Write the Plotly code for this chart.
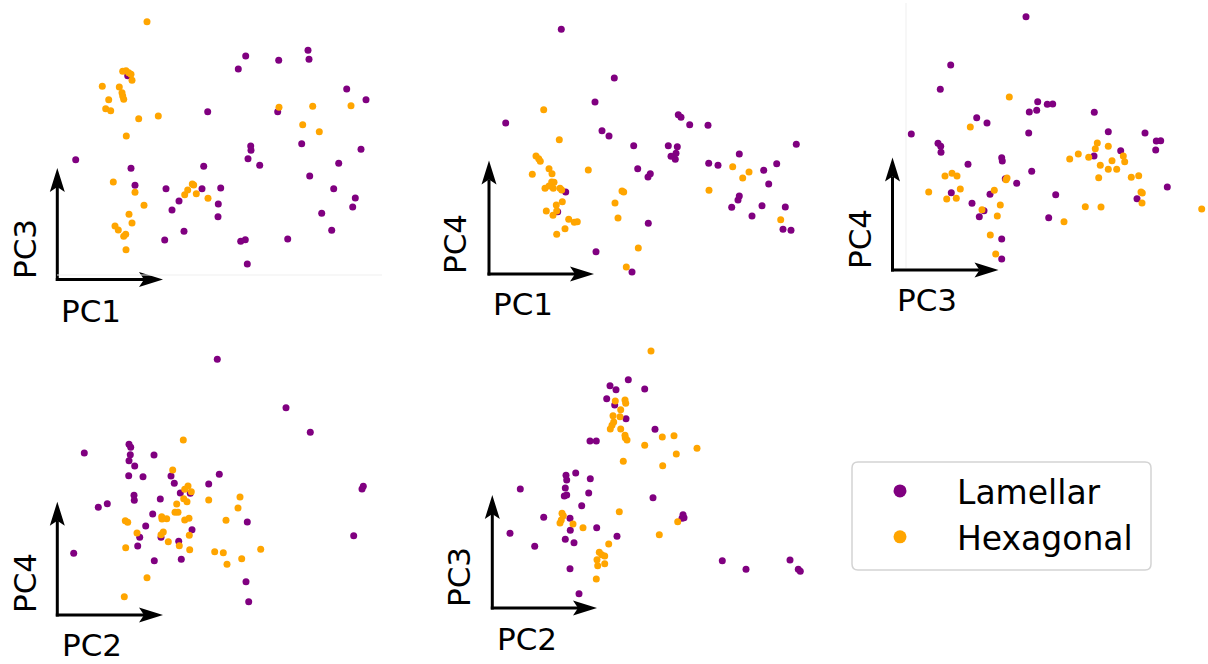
import plotly.graph_objects as go

W, H = 1208, 664
PURPLE = "#800080"
ORANGE = "#FFA500"

# ---------------- data (scores, panel units) ----------------
# Panel 1: PC1 (x) vs PC3 (y)
p1_lam_x = [75.7,131,135,166,179,172,184,164.7,203.7,202,220.7,218.3,218,207.7,245.7,238.3,278.7,308,309,277.7,250.7,251,248,259.7,240.7,245.3,247.3,287.7,301.7,309.7,346.7,366,361,338.7,333.7,355.3,352.7,321.7,331.7,127.7]
p1_lam_y = [159.7,168.3,185.3,188.7,201,210,231.3,240,166.3,188.7,188,204,216.7,111.7,56,69,60.3,50.3,59.3,111.7,146,150.3,158.7,165.3,241.3,239.7,264,239,143.7,176,89,99.7,149.3,163.3,188.7,198,207,213.3,230.3,75.7]
p1_hex_x = [147,122.7,126,128.7,131,132,102.3,119.3,122,122.7,123.7,108.7,105.7,110.7,138.7,158.3,126.3,113.3,135,144,129,132,115,118.3,125.7,123.7,126,192.3,193.7,187.7,184.7,196.3,208,279,312.7,351,302.7,319.3]
p1_hex_y = [21.7,71.3,70.7,72.7,74.3,80.3,86.3,87,92.7,96,99.3,99.7,108.7,110.7,118.7,116,136,182,192.3,205.3,214.3,223,226,230,234.3,236.3,249.7,184,185,190,194.7,193.7,198.3,107.3,106.3,105.7,124.7,131.7]

# Panel 2: PC1 (x) vs PC4 (y)
p2_lam_x = [561.3,614.3,595,505.7,602,609,633.7,678.3,681,689.7,708,668.3,677.3,676,671,675.3,637.7,650.3,648,796.3,739.3,708.7,718,763.7,776.7,768.7,739.3,738,731.7,762,752,785.3,783,791,565.7,557.7,648.3,596,632]
p2_lam_y = [29.3,78,102,123,130.7,136,145.7,114.7,117.3,124.7,125.3,145.7,146.7,153.3,156.3,159.3,168.7,173.7,177,144.3,154,163.3,165.3,170.3,163.7,184,196,200,207.3,205.7,216,207,229.3,230.3,192,211.7,223.3,251.7,272]
p2_hex_x = [543.7,559.3,536,538.7,540.3,549,552,532.3,551.7,554,549,545,553.3,560,561.7,562.3,556.3,546.3,553,556.7,568.7,574.3,577.3,565,556.7,588.3,622,623.7,615,618,638.3,626.3,709,732.7,749,742.7,780.7]
p2_hex_y = [109.7,139.7,156,158.7,161.3,168.7,173.7,174.3,182,182.3,186,188.3,188.3,188.3,190,201.7,205,211,215.3,211,219.3,222.3,221.7,228.7,234.3,170,191,192,203,218,248,267,190.3,166.7,172,178,219.7]

# Panel 3: PC3 (x) vs PC4 (y)
p3_lam_x = [1026,950.7,940.3,911.3,976.7,987,1037.7,1036.7,1029.3,1047.3,1052.7,1028.7,1094.3,1108.3,1145,1156.3,1160.7,1155.7,1120.7,1094,938,940.7,941,1001.7,1002.3,968,1031.7,1005.3,1016.7,951.3,990,972,984,979.3,1055.7,1048.7,1167.3,1137,1001.7,1001.7]
p3_lam_y = [16.7,65,89.3,134,117.7,123,101.7,110.3,112,104.3,104,133,112.3,131.7,133,141,140.7,150,150.7,156,143.3,146.3,152.3,157.7,161,164.3,171.3,178.7,183.3,192.7,194.3,203.3,210.7,216.7,194.7,217.7,187,198.7,239,259]
p3_hex_x = [1009.3,970.3,1097.3,1095.3,1108.3,1078.3,1088.7,1069.7,1123.3,1124.7,1112,1100.3,1108.3,1116.7,1098.7,1131.3,1138.7,1141,1142.3,1142,1085.3,1101,1064,1201.7,945,952,957,928.7,960.3,946.7,956.3,1007,1006,994.3,1000.3,982,997.3,990.3,995.7]
p3_hex_y = [97,127,143,148.7,146.3,154,157.3,159,156,161.7,160.7,165.3,169.3,169.3,177.7,177.3,175.7,192,193,203,206.7,207,221.7,209,176,173.3,176,192,189,199,198.3,178,179.7,190.3,205,209.7,216,235,254]

# Panel 4: PC2 (x) vs PC4 (y)
p4_lam_x = [217.3,286,310.3,84.3,129,130.7,130.3,129,134.7,154,128.7,143,171,219.3,174.3,208.7,180.3,190.3,134,134.3,160.3,98.3,107.3,152.7,145.7,192,139.7,161,178.7,137.7,247.3,73.7,154.3,181.3,246,248.7,363.3,362,353.7]
p4_lam_y = [359.3,407.7,432.3,453,444.3,447.3,454.7,460.7,466,455,475.7,476.7,476,474.3,483.3,484,493,493.3,495.3,500.3,499,507.3,503.7,514,526,529.7,537.3,537.3,541.3,546,522,553.3,560.7,559.3,581.7,601.7,486.3,489,535.7]
p4_hex_x = [183.3,172.7,188,184.7,191.3,183.7,187,176.7,175,178,208.7,240,238,161.7,166.7,162,184.7,189,226,125.3,127.7,137,163.3,161,189.3,168.3,179.3,189.7,125.7,214.7,223.3,227,241.7,260.7,147,124.3]
p4_hex_y = [440,470,486,489.3,491.7,498.7,501.7,504,512.3,512.3,500,497,508,516.7,518.7,519,520,518.3,520.3,520.7,522.3,533,532,534.7,535.3,541.7,545.7,549.7,547.7,551.7,552.7,564.3,558.7,549.3,577.7,596.7]

# Panel 5: PC2 (x) vs PC3 (y)
p5_lam_x = [628.3,610,616,644.7,606.7,614.7,626,655,590,596.3,575.7,566,566.7,590.3,565.3,520.3,588.7,564.3,566.7,581.7,653,543.7,570,570.3,565.3,574,596.7,617,510,534.7,570,579,683,684,682,722.3,746,790,798.3,800.3]
p5_lam_y = [379.7,385.7,389.7,389,398.7,405,418.7,429.3,441,441,473,475.3,480,478.7,488,489,493,496,495,505.7,497.7,517.3,518.3,530.3,539.3,542.7,527.7,536.3,533.3,546.3,568.7,593.7,514.7,517.7,518.3,560.7,569.3,560,569.3,571.3]
p5_hex_x = [651,615.3,625,625.7,620.7,613,620,613.7,612,610.3,620.7,625,625.3,627,662.3,674,644.7,697,676.3,662.7,623.3,619.3,562,563.3,561.3,560,573,583,608.7,599.3,601.7,604.7,597,604.7,597.7,596.3,659.3,677.7]
p5_hex_y = [351,401,400,403.3,409.7,415.7,416.7,422,425.3,429,429,435.3,437.7,440,437,435.7,445.3,448.3,454,465.7,461.3,511.7,513.3,515.7,520,523,524,527.7,544,552.3,554.7,556,559.7,563.7,565.7,579,534.7,521.7]

class_names = ["Lamellar", "Hexagonal"]
x_labels = ["PC1", "PC1", "PC3", "PC2", "PC2"]
y_labels = ["PC3", "PC4", "PC4", "PC4", "PC3"]

panels_data = [
    (p1_lam_x, p1_lam_y, p1_hex_x, p1_hex_y),
    (p2_lam_x, p2_lam_y, p2_hex_x, p2_hex_y),
    (p3_lam_x, p3_lam_y, p3_hex_x, p3_hex_y),
    (p4_lam_x, p4_lam_y, p4_hex_x, p4_hex_y),
    (p5_lam_x, p5_lam_y, p5_hex_x, p5_hex_y),
]

# ---------------- layout geometry ----------------
boxes = [(40, 390, 5, 300), (470, 815, 15, 295), (875, 1208, 0, 290),
         (40, 390, 340, 630), (475, 815, 335, 625)]
arrows = [(57.3, 279.5, 168, 163), (489, 274, 160.5, 594), (892.5, 270, 157.5, 998.5),
          (57.3, 615, 501.7, 163), (492.3, 608, 495, 597)]
xlab_pos = [(91, 311.5), (522.5, 304), (926.5, 300), (92, 645), (526.5, 639)]
ylab_pos = [(25, 249), (455, 244), (860, 239), (25, 583), (459, 577)]

FONT = "DejaVu Sans"
fig = go.Figure()
layout = dict(width=W, height=H, margin=dict(l=0, r=0, t=0, b=0),
              paper_bgcolor="white", plot_bgcolor="white", showlegend=True)
shapes, annotations = [], []

for i, (box, dat) in enumerate(zip(boxes, panels_data)):
    k = "" if i == 0 else str(i + 1)
    x0, x1, y0, y1 = box
    layout["xaxis" + k] = dict(domain=[x0 / W, x1 / W], range=[x0, x1], visible=False,
                               fixedrange=True, anchor="y" + k)
    layout["yaxis" + k] = dict(domain=[1 - y1 / H, 1 - y0 / H], range=[y1, y0], visible=False,
                               fixedrange=True, anchor="x" + k)
    lx, ly, hx, hy = dat
    fig.add_trace(go.Scatter(x=lx, y=ly, mode="markers", xaxis="x" + k, yaxis="y" + k,
                             marker=dict(color=PURPLE, size=7, line=dict(width=0)),
                             showlegend=False, hoverinfo="skip"))
    fig.add_trace(go.Scatter(x=hx, y=hy, mode="markers", xaxis="x" + k, yaxis="y" + k,
                             marker=dict(color=ORANGE, size=7, line=dict(width=0)),
                             showlegend=False, hoverinfo="skip"))
    ox, oy, ty, tx = arrows[i]
    xr, yr = "x" + k, "y" + k
    hl, hw, notch = 24, 7.5, 5
    shapes.append(dict(type="line", xref=xr, yref=yr, x0=ox, x1=ox, y0=oy + 1.5, y1=ty + hl - notch,
                       line=dict(color="black", width=3)))
    shapes.append(dict(type="line", xref=xr, yref=yr, x0=ox - 1.5, x1=tx - hl + notch, y0=oy, y1=oy,
                       line=dict(color="black", width=3)))
    shapes.append(dict(type="path", xref=xr, yref=yr,
                       path=f"M{ox},{ty} L{ox + hw},{ty + hl} L{ox},{ty + hl - notch} L{ox - hw},{ty + hl} Z",
                       fillcolor="black", line=dict(width=0)))
    shapes.append(dict(type="path", xref=xr, yref=yr,
                       path=f"M{tx},{oy} L{tx - hl},{oy - hw} L{tx - hl + notch},{oy} L{tx - hl},{oy + hw} Z",
                       fillcolor="black", line=dict(width=0)))
    ax_, ay_ = xlab_pos[i]
    annotations.append(dict(text=x_labels[i], x=ax_ / W, y=1 - ay_ / H, xref="paper", yref="paper",
                            showarrow=False, xanchor="center", yanchor="middle",
                            font=dict(family=FONT, size=31, color="black")))
    bx_, by_ = ylab_pos[i]
    annotations.append(dict(text=y_labels[i], x=bx_ / W, y=1 - by_ / H, xref="paper", yref="paper",
                            showarrow=False, xanchor="center", yanchor="middle", textangle=-90,
                            font=dict(family=FONT, size=31, color="black")))

shapes.append(dict(type="line", xref="x", yref="y", x0=57, x1=382, y0=275, y1=275,
                   line=dict(color="#efefef", width=1)))
shapes.append(dict(type="line", xref="x3", yref="y3", x0=906, x1=906, y0=3, y1=268,
                   line=dict(color="#efefef", width=1)))

# rounded legend frame (paper coordinates)
LX0, LX1, LY0, LY1, R = 852, 1151, 462, 570, 6
def px(x):
    return x / W
def py(y):
    return 1 - y / H
frame = (f"M{px(LX0 + R)},{py(LY0)} L{px(LX1 - R)},{py(LY0)} Q{px(LX1)},{py(LY0)} {px(LX1)},{py(LY0 + R)} "
         f"L{px(LX1)},{py(LY1 - R)} Q{px(LX1)},{py(LY1)} {px(LX1 - R)},{py(LY1)} "
         f"L{px(LX0 + R)},{py(LY1)} Q{px(LX0)},{py(LY1)} {px(LX0)},{py(LY1 - R)} "
         f"L{px(LX0)},{py(LY0 + R)} Q{px(LX0)},{py(LY0)} {px(LX0 + R)},{py(LY0)} Z")
shapes.append(dict(type="path", xref="paper", yref="paper", path=frame,
                   line=dict(color="#d3d3d3", width=1.5), fillcolor="white", layer="below"))

for name, col in zip(class_names, [PURPLE, ORANGE]):
    fig.add_trace(go.Scatter(x=[None], y=[None], mode="markers", name=name,
                             marker=dict(color=col, size=13), showlegend=True))

layout["legend"] = dict(x=852 / W, y=1 - 463 / H, xanchor="left", yanchor="top",
                        font=dict(family=FONT, size=33, color="black"),
                        borderwidth=0, bgcolor="rgba(0,0,0,0)",
                        itemwidth=104, indentation=-9, tracegroupgap=0)
layout["shapes"] = shapes
layout["annotations"] = annotations
fig.update_layout(**layout)
fig.write_html("out.html")
